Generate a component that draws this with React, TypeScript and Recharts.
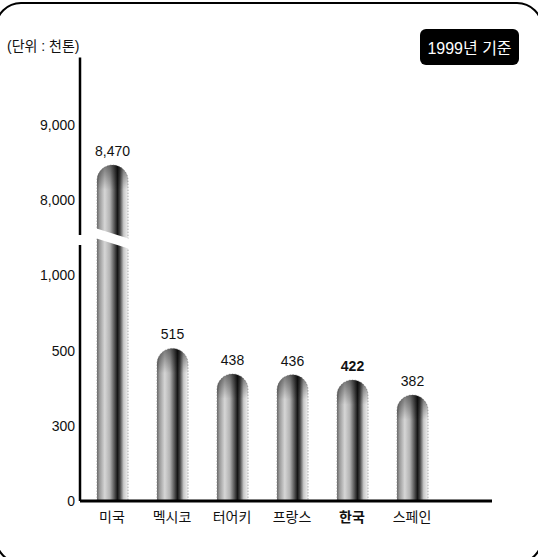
import { BarChart, Bar, XAxis, YAxis, LabelList } from "recharts";

// 주요국 생산량 (단위: 천톤, 1999년 기준)
const countries = ["미국", "멕시코", "터어키", "프랑스", "한국", "스페인"];
const production = [8470, 515, 438, 436, 422, 382];
const yTicks = [0, 300, 500, 1000, 8000, 9000];
// broken axis: every step between these values gets the same height
const yKnots = [0, 300, 500, 1000, 8000, 9000, 10000];
const highlight = "한국";

const data = countries.map((name, i) => ({ name, amount: production[i] }));

const W = 538;
const H = 557;
const TOP = 57.5;
const X_AXIS_H = 56;
const Y_MAX = 9900;
const BREAK_STEP = 3.5; // between 1,000 and 8,000

const FONT = "'Liberation Sans', Arial, 'Noto Sans CJK KR', sans-serif";

function toStep(v: number) {
  for (let i = 1; i < yKnots.length; i++) {
    if (v <= yKnots[i] || i === yKnots.length - 1) {
      return i - 1 + (v - yKnots[i - 1]) / (yKnots[i] - yKnots[i - 1]);
    }
  }
  return 0;
}

function brokenScale(): any {
  let dom = [0, 1];
  let rng = [0, 1];
  const s: any = (v: number) => {
    const a = toStep(dom[0]);
    const b = toStep(dom[1]);
    return rng[0] + ((toStep(v) - a) / (b - a)) * (rng[1] - rng[0]);
  };
  s.domain = (d?: number[]) => {
    if (d === undefined) return dom.slice();
    dom = d.map(Number);
    return s;
  };
  s.range = (r?: number[]) => {
    if (r === undefined) return rng.slice();
    rng = r.map(Number);
    return s;
  };
  s.copy = () => brokenScale().domain(dom).range(rng);
  s.ticks = () => yTicks.filter((t) => t >= dom[0] && t <= dom[1]);
  s.tickFormat = () => (v: number) => String(v);
  s.clamp = () => s;
  s.nice = () => s;
  return s;
}

// gap in the y axis line at the break
const plotH = H - TOP - X_AXIS_H;
const gapCenter = ((toStep(Y_MAX) - BREAK_STEP) / toStep(Y_MAX)) * plotH;
const axisDash = `${gapCenter - 3} 10 ${plotH}`;

function Cylinder(props: any) {
  const { x, y, width, height, index, payload } = props;
  if (!height || height <= 0) return null;
  const r = width / 2;
  const id = `cyl-${index}`;
  const d = `M${x},${y + height} L${x},${y + r} A${r},${r} 0 0 1 ${x + width},${y + r} L${x + width},${y + height} Z`;
  const steps = toStep(payload.amount);
  let gap = null;
  if (steps > BREAK_STEP) {
    const yb = y + height - (BREAK_STEP / steps) * height;
    gap = (
      <polygon
        points={`${x - 2},${yb - 10} ${x + width + 2},${yb + 1} ${x + width + 2},${yb + 11} ${x - 2},${yb}`}
        fill="#fff"
      />
    );
  }
  return (
    <g>
      <defs>
        <linearGradient id={id} x1="0" y1="0" x2="1" y2="0">
          <stop offset="0%" stopColor="#666" />
          <stop offset="8%" stopColor="#999" />
          <stop offset="25%" stopColor="#d6d6d6" />
          <stop offset="42%" stopColor="#b0b0b0" />
          <stop offset="57%" stopColor="#505050" />
          <stop offset="66%" stopColor="#151515" />
          <stop offset="74%" stopColor="#444" />
          <stop offset="86%" stopColor="#c8c8c8" />
          <stop offset="100%" stopColor="#f2f2f2" />
        </linearGradient>
        <linearGradient id={`${id}-top`} x1="0" y1="0" x2="0" y2="1">
          <stop offset="0%" stopColor="#000" stopOpacity={0.45} />
          <stop offset="100%" stopColor="#000" stopOpacity={0} />
        </linearGradient>
      </defs>
      <path d={d} fill={`url(#${id})`} stroke="#888" strokeWidth={0.7} strokeDasharray="1.5 1.5" />
      <path
        d={`M${x},${y + r * 1.6} L${x},${y + r} A${r},${r} 0 0 1 ${x + width},${y + r} L${x + width},${y + r * 1.6} Z`}
        fill={`url(#${id}-top)`}
      />
      {gap}
    </g>
  );
}

function ValueLabel(props: any) {
  const { x, y, width, value, index } = props;
  const bold = countries[index] === highlight;
  return (
    <text
      x={x + width / 2}
      y={y - 9}
      textAnchor="middle"
      fontSize={14}
      fontFamily={FONT}
      fontWeight={bold ? 700 : 400}
      fill="#111"
    >
      {Number(value).toLocaleString("en-US")}
    </text>
  );
}

function CountryTick(props: any) {
  const { x, y, payload } = props;
  const bold = payload.value === highlight;
  return (
    <text
      x={x}
      y={y}
      dy={11}
      textAnchor="middle"
      fontSize={14}
      fontFamily={FONT}
      fontWeight={bold ? 700 : 400}
      fill="#111"
    >
      {payload.value}
    </text>
  );
}

export default function App() {
  return (
    <div
      style={{
        position: "absolute",
        left: 0,
        top: 0,
        width: W,
        height: H,
        overflow: "hidden",
        background: "#fff",
        fontFamily: FONT,
      }}
    >
      <div
        style={{
          position: "absolute",
          left: -5,
          top: 2,
          width: 548,
          height: 562,
          boxSizing: "border-box",
          border: "2.5px solid #000",
          borderRadius: 26,
        }}
      />
      <div
        style={{
          position: "absolute",
          left: 7,
          top: 35,
          fontSize: 14,
          color: "#111",
          whiteSpace: "nowrap",
        }}
      >
        (단위 : 천톤)
      </div>
      <div
        style={{
          position: "absolute",
          left: 420,
          top: 29,
          width: 99,
          height: 36,
          background: "#000",
          borderRadius: 6,
          color: "#fff",
          fontSize: 16,
          display: "flex",
          alignItems: "center",
          justifyContent: "center",
          whiteSpace: "nowrap",
        }}
      >
        1999년 기준
      </div>
      <BarChart
        width={W}
        height={H}
        data={data}
        margin={{ top: TOP, right: 46, bottom: 0, left: 0 }}
        style={{ position: "absolute", left: 0, top: 0 }}
      >
        <XAxis
          dataKey="name"
          height={X_AXIS_H}
          padding={{ left: 2, right: 50 }}
          axisLine={{ stroke: "#000", strokeWidth: 3 }}
          tickLine={false}
          tickSize={0}
          tickMargin={10}
          tick={<CountryTick />}
          interval={0}
        />
        <YAxis
          type="number"
          width={80}
          domain={[0, Y_MAX]}
          scale={brokenScale()}
          ticks={yTicks}
          interval={0}
          axisLine={{ stroke: "#000", strokeWidth: 2.5, strokeDasharray: axisDash }}
          tickLine={false}
          tickSize={0}
          tickMargin={5}
          tickFormatter={(v: number) => v.toLocaleString("en-US")}
          tick={{ fontSize: 14, fill: "#111", fontFamily: FONT }}
        />
        <Bar dataKey="amount" barSize={31} shape={<Cylinder />} isAnimationActive={false}>
          <LabelList dataKey="amount" content={<ValueLabel />} />
        </Bar>
      </BarChart>
    </div>
  );
}
